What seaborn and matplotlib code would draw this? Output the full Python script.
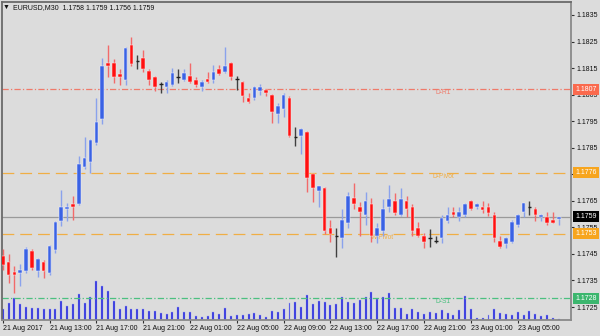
import numpy as np
import pandas as pd
import matplotlib
matplotlib.use("Agg")
import matplotlib.pyplot as plt
import matplotlib.transforms as mtransforms
import seaborn as sns

# ---------------- data (EURUSD M30, 21-23 Aug 2017) ----------------
opens = [1.17442, 1.17420, 1.17382, 1.17379, 1.17386, 1.17461, 1.17387, 1.17420, 1.17379, 1.17465,
         1.17575, 1.17618, 1.17638, 1.17638, 1.17779, 1.17797, 1.17867, 1.17957, 1.18168, 1.18168,
         1.18128, 1.18105, 1.18237, 1.18178, 1.18187, 1.18138, 1.18118, 1.18089, 1.18078, 1.18086,
         1.18118, 1.18105, 1.18120, 1.18105, 1.18080, 1.18108, 1.18105, 1.18147, 1.18135, 1.18168,
         1.18108, 1.18099, 1.18039, 1.18036, 1.18065, 1.18068, 1.18049, 1.17976, 1.17995, 1.18039,
         1.17889, 1.17894, 1.17910, 1.17750, 1.17687, 1.17699, 1.17549, 1.17518, 1.17510, 1.17568,
         1.17660, 1.17628, 1.17597, 1.17638, 1.17518, 1.17536, 1.17626, 1.17651, 1.17597, 1.17651,
         1.17628, 1.17547, 1.17517, 1.17510, 1.17500, 1.17510, 1.17575, 1.17607, 1.17590, 1.17597,
         1.17651, 1.17626, 1.17628, 1.17628, 1.17597, 1.17500, 1.17487, 1.17496, 1.17559, 1.17607,
         1.17628, 1.17618, 1.17588, 1.17588, 1.17578, 1.17580]
highs = [1.17468, 1.17450, 1.17405, 1.17412, 1.17477, 1.17468, 1.17436, 1.17427, 1.17484, 1.17575,
         1.17691, 1.17641, 1.17669, 1.17819, 1.17889, 1.17882, 1.18036, 1.18187, 1.18237, 1.18183,
         1.18145, 1.18231, 1.18268, 1.18199, 1.18218, 1.18145, 1.18122, 1.18099, 1.18105, 1.18149,
         1.18145, 1.18145, 1.18168, 1.18116, 1.18105, 1.18136, 1.18162, 1.18162, 1.18228, 1.18172,
         1.18120, 1.18102, 1.18057, 1.18082, 1.18090, 1.18073, 1.18052, 1.18017, 1.18057, 1.18045,
         1.17927, 1.17924, 1.17913, 1.17755, 1.17707, 1.17702, 1.17578, 1.17547, 1.17618, 1.17684,
         1.17718, 1.17647, 1.17684, 1.17660, 1.17568, 1.17656, 1.17710, 1.17681, 1.17699, 1.17669,
         1.17638, 1.17571, 1.17527, 1.17542, 1.17519, 1.17597, 1.17628, 1.17628, 1.17628, 1.17642,
         1.17653, 1.17642, 1.17650, 1.17641, 1.17607, 1.17519, 1.17514, 1.17578, 1.17600, 1.17643,
         1.17650, 1.17628, 1.17600, 1.17607, 1.17607, 1.17590]
lows = [1.17389, 1.17340, 1.17303, 1.17329, 1.17379, 1.17389, 1.17364, 1.17359, 1.17370, 1.17455,
        1.17555, 1.17575, 1.17578, 1.17635, 1.17769, 1.17754, 1.17860, 1.17938, 1.18118, 1.18095,
        1.18086, 1.18086, 1.18158, 1.18145, 1.18136, 1.18086, 1.18065, 1.18055, 1.18055, 1.18082,
        1.18095, 1.18102, 1.18093, 1.18078, 1.18065, 1.18093, 1.18095, 1.18124, 1.18133, 1.18105,
        1.18068, 1.18023, 1.18017, 1.18030, 1.18049, 1.18046, 1.17944, 1.17944, 1.17967, 1.17891,
        1.17856, 1.17826, 1.17684, 1.17647, 1.17626, 1.17525, 1.17496, 1.17440, 1.17473, 1.17547,
        1.17618, 1.17518, 1.17559, 1.17496, 1.17491, 1.17519, 1.17607, 1.17597, 1.17594, 1.17590,
        1.17519, 1.17514, 1.17473, 1.17477, 1.17491, 1.17491, 1.17568, 1.17590, 1.17575, 1.17590,
        1.17615, 1.17618, 1.17603, 1.17593, 1.17496, 1.17474, 1.17473, 1.17490, 1.17553, 1.17590,
        1.17597, 1.17575, 1.17575, 1.17559, 1.17566, 1.17560]
closes = [1.17408, 1.17371, 1.17371, 1.17389, 1.17468, 1.17398, 1.17430, 1.17387, 1.17480, 1.17569,
          1.17628, 1.17628, 1.17626, 1.17788, 1.17811, 1.17879, 1.17947, 1.18158, 1.18158, 1.18118,
          1.18118, 1.18227, 1.18165, 1.18178, 1.18147, 1.18105, 1.18078, 1.18089, 1.18099, 1.18130,
          1.18118, 1.18130, 1.18096, 1.18086, 1.18099, 1.18096, 1.18136, 1.18128, 1.18159, 1.18118,
          1.18108, 1.18046, 1.18023, 1.18080, 1.18080, 1.18055, 1.17986, 1.18007, 1.18049, 1.17894,
          1.17889, 1.17921, 1.17737, 1.17699, 1.17704, 1.17536, 1.17525, 1.17518, 1.17578, 1.17669,
          1.17638, 1.17607, 1.17651, 1.17519, 1.17547, 1.17618, 1.17657, 1.17606, 1.17657, 1.17618,
          1.17536, 1.17518, 1.17496, 1.17510, 1.17500, 1.17587, 1.17597, 1.17597, 1.17607, 1.17638,
          1.17618, 1.17638, 1.17615, 1.17606, 1.17510, 1.17477, 1.17510, 1.17571, 1.17597, 1.17641,
          1.17628, 1.17597, 1.17597, 1.17568, 1.17568, 1.17590]
volumes = [428, 668, 868, 640, 508, 468, 492, 428, 452, 452,
           772, 572, 640, 1040, 692, 932, 1560, 1360, 1160, 760,
           428, 560, 452, 428, 428, 372, 372, 268, 228, 308,
           532, 320, 320, 172, 132, 160, 308, 240, 468, 160,
           200, 200, 240, 268, 200, 120, 360, 308, 428, 668,
           720, 508, 988, 640, 748, 708, 600, 652, 908, 720,
           692, 800, 908, 1120, 828, 908, 1092, 492, 468, 240,
           440, 332, 228, 308, 268, 400, 268, 200, 400, 960,
           428, 92, 92, 200, 428, 292, 240, 200, 320, 200,
           372, 240, 160, 200, 68, 40]
time_labels = ["21 Aug 2017", "21 Aug 13:00", "21 Aug 17:00", "21 Aug 21:00",
               "22 Aug 01:00", "22 Aug 05:00", "22 Aug 09:00", "22 Aug 13:00",
               "22 Aug 17:00", "22 Aug 21:00", "23 Aug 01:00", "23 Aug 05:00"]
price_ticks = [1.1725, 1.1735, 1.1745, 1.1755, 1.1765, 1.1775, 1.1785,
               1.1795, 1.1805, 1.1815, 1.1825, 1.1835]
hidden_tick_labels = [1.1775]   # fully covered by the D-Pivot price box in the original
level_names = ["D-R1", "D-Pivot", "W-Pivot", "D-S1"]
level_values = [1.18070, 1.17756, 1.17526, 1.17283]
last_price = 1.1759
symbol_title = "EURUSD,M30  1.1758 1.1759 1.1756 1.1759"

# ---------------- style ----------------
BG = "#dcdcdc"
sns.set_style("white", {"axes.facecolor": BG, "figure.facecolor": BG})
plt.rcParams["font.family"] = ["Liberation Sans", "DejaVu Sans"]
plt.rcParams["lines.scale_dashes"] = False

W, H = 600, 336
fig = plt.figure(figsize=(W / 100, H / 100), dpi=100)
fig.patch.set_facecolor(BG)
L, R, T, B = 2, 571, 2, 320
rect = [L / W, 1 - B / H, (R - L) / W, (B - T) / H]

axv = fig.add_axes(rect)
ax = fig.add_axes(rect, sharex=axv)
ax.patch.set_alpha(0)
axv.set_facecolor(BG)

n = len(opens)
df = pd.DataFrame({"idx": np.arange(n), "open": opens, "high": highs,
                   "low": lows, "close": closes, "volume": volumes})

# volumes (seaborn)
sns.barplot(data=df, x="idx", y="volume", ax=axv, native_scale=True,
            width=0.34, color="#2b2bdc", saturation=1, errorbar=None,
            edgecolor="#9ea8f0", linewidth=0.3)
axv.set_ylim(0, 318 * 40)
axv.axis("off")

# level lines
styles = {
    "D-R1": ("#ef7a6a", (0, (4.5, 1.6, 0.9, 1.6))),
    "D-Pivot": ("#f0ae45", (0, (8.5, 4.3))),
    "W-Pivot": ("#f0ae45", (0, (8.5, 4.3))),
    "D-S1": ("#4cc080", (0, (4.5, 1.6, 0.9, 1.6))),
}
for name, val in zip(level_names, level_values):
    c, ls = styles[name]
    ax.axhline(val, color=c, lw=0.9, linestyle=ls, zorder=1)
ax.axhline(last_price, color="#9a9a9a", lw=0.9, zorder=1)

label_pos = {"D-R1": 435, "D-Pivot": 432, "W-Pivot": 371, "D-S1": 435}
xpx = lambda px: (px - 2.7) / 5.853
for name, val in zip(level_names, level_values):
    c, _ = styles[name]
    ax.text(xpx(label_pos[name]), val, name, color=c, fontsize=4.8,
            ha="left", va="top", zorder=1.5)

# candles
up = df["close"] > df["open"]
dn = df["close"] < df["open"]
dj = df["close"] == df["open"]
blue, red = "#3a62e4", "#ff1010"
bw = 0.62
for mask, col, wcol in [(up, blue, "#8aa2ec"), (dn, red, "#f26a6a"), (dj, "#202020", "#404040")]:
    sub = df[mask]
    ax.vlines(sub["idx"], sub["low"], sub["high"], color=wcol, lw=1.0, zorder=3)
    if col != "#202020":
        bottom = np.minimum(sub["open"], sub["close"])
        height = np.maximum((sub["open"] - sub["close"]).abs(), 0.00003)
        ax.bar(sub["idx"], height, bottom=bottom, width=bw, color=col,
               edgecolor="#eef0ff" if col == blue else "#ffe8e8", linewidth=0.35, zorder=4)
    else:
        ax.hlines(sub["open"], sub["idx"] - bw / 2, sub["idx"] + bw / 2,
                  color=col, lw=1.0, zorder=4)

ax.set_xlim(xpx(L), xpx(R))
ax.set_ylim(1.184065 - 320 * 3.767e-5, 1.184065 - 2 * 3.767e-5)

# axes decoration
for s in ["left", "top"]:
    ax.spines[s].set_color("#6a6a6a")
    ax.spines[s].set_linewidth(1.3)
for s in ["right", "bottom"]:
    ax.spines[s].set_color("#8a8a8a")
    ax.spines[s].set_linewidth(1.3)

ax.yaxis.tick_right()
ax.set_yticks(price_ticks, ["" if p in hidden_tick_labels else f"{p:.4f}" for p in price_ticks])
ax.tick_params(axis="y", which="both", right=True, left=False, length=2.5,
               width=0.8, color="#303030", labelsize=5, pad=1.2, labelcolor="#101010")
xt = list(range(0, 8 * len(time_labels), 8))
ax.set_xticks(xt, time_labels)
for lab in ax.get_xticklabels():
    lab.set_horizontalalignment("left")
ax.tick_params(axis="x", bottom=True, length=2.5, width=0.8, color="#303030",
               labelsize=5, pad=1.2, labelcolor="#101010")
ax.set_xlabel("")
ax.set_ylabel("")
ax.grid(False)

# right-hand price boxes
tr = mtransforms.blended_transform_factory(ax.transAxes, ax.transData)
boxes = [(level_values[0], "1.1807", "#fa6a4e", "white"),
         (level_values[1], "1.1776", "#f7a51e", "white"),
         (last_price, "1.1759", "#000000", "white"),
         (level_values[2], "1.1753", "#f7a51e", "white"),
         (level_values[3], "1.1728", "#3cb66e", "white")]
for val, txt, fc, tc in boxes:
    ax.text(1 + 4.3 / (R - L), val, txt, transform=tr, ha="left", va="center",
            fontsize=5, color=tc, clip_on=False, zorder=10,
            bbox=dict(boxstyle="square,pad=0.3", fc=fc, ec="none"))

# title
fig.text(3 / W, 1 - 7.5 / H, "\u25bc", fontsize=5, color="#101010", va="center", ha="left")
fig.text(13 / W, 1 - 7.5 / H, symbol_title, fontsize=5, color="#101010", va="center", ha="left")

fig.savefig("out.png", dpi=100, facecolor=BG)
